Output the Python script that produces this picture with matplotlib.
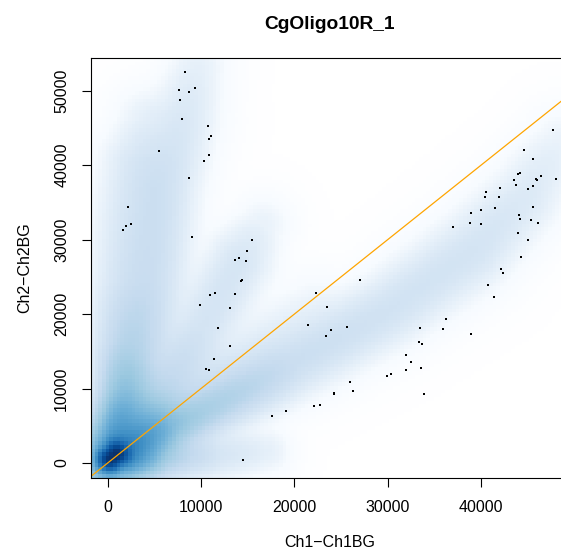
import numpy as np
import matplotlib
matplotlib.use("Agg")
import matplotlib.pyplot as plt
from matplotlib.colors import LinearSegmentedColormap

plt.rcParams['font.family'] = ['Liberation Sans', 'DejaVu Sans']

# low-density points that smoothScatter draws as dots
pts_x = [8300, 7600, 8700, 9350, 7700, 7950, 10700, 11050, 10800, 5500,
         10800, 10300, 8700, 2150, 2450, 1950, 1600, 9000, 14900, 14050,
         13600, 14800, 15450, 47700, 44550, 45550, 43950, 44150, 43500, 45850,
         45950, 46400, 48000, 43700, 45000, 45550, 42000, 40500, 40400, 41900,
         41450, 45550, 38900, 39950, 44050, 44150, 45300, 46050, 38800, 39950,
         36950, 43950, 45000, 44250, 14350, 14250, 11450, 10950, 13600, 9850,
         13050, 11800, 13050, 11350, 10500, 10800, 14450, 27000, 22300, 23450,
         21450, 23900, 25600, 23350, 30300, 29900, 25950, 26250, 24200, 24200,
         22700, 22050, 19050, 17550, 42100, 42300, 40700, 41350, 36200, 33450,
         35900, 38900, 33300, 33650, 31950, 32450, 31950, 33550, 33850]
pts_y = [52500, 50100, 49800, 50350, 48750, 46200, 45250, 43900, 43500, 41900,
         41350, 40550, 38300, 34400, 32100, 31850, 31300, 30350, 28450, 27550,
         27250, 27150, 30000, 44700, 42050, 40850, 38800, 38950, 38000, 38150,
         38000, 38550, 38150, 37350, 36800, 37200, 36950, 36400, 35700, 35700,
         34250, 34400, 33600, 34000, 33300, 32750, 32650, 32250, 32250, 32100,
         31700, 30900, 29950, 27650, 24600, 24450, 22850, 22550, 22700, 21200,
         20800, 18150, 15700, 13950, 12600, 12500, 400, 24600, 22850, 20950,
         18550, 17850, 18250, 17050, 11950, 11700, 10900, 9650, 9400, 9250,
         7800, 7650, 7000, 6300, 26050, 25500, 23900, 22300, 19350, 18150,
         18000, 17300, 16250, 16000, 14500, 13550, 12500, 12750, 9250]

# density ridges: (x, y, relative density, spread in px)
core = [(200, 500, 1.0, 7), (900, 1200, 1.0, 7)]
halo = [(300, 800, 0.1, 22), (2500, 3000, 0.06, 24)]
ray_vertical = [(700, 3000, 0.12, 9), (1300, 9000, 0.05, 12), (1800, 16000, 0.02, 15),
                (2500, 24000, 0.008, 18), (3000, 32000, 0.006, 19),
                (3500, 40000, 0.005, 18), (4200, 46000, 0.0015, 15)]
ray_steep = [(2000, 4000, 0.04, 10), (3800, 14000, 0.012, 14), (5000, 25000, 0.007, 16),
             (5800, 37000, 0.007, 17), (8000, 46000, 0.004, 16), (9500, 53000, 0.0015, 14)]
ray_mid = [(2500, 3000, 0.05, 10), (6000, 9500, 0.015, 14), (10000, 18000, 0.006, 16),
           (14000, 27000, 0.005, 16), (16500, 32000, 0.001, 13)]
ray_diag = [(3000, 3000, 0.04, 10), (8000, 8000, 0.008, 15), (15000, 14000, 0.003, 17),
            (22000, 20000, 0.001, 17)]
ray_low = [(2500, 1800, 0.12, 9), (7000, 4800, 0.045, 12), (10650, 7100, 0.03, 13),
           (20000, 13500, 0.01, 16), (30000, 20500, 0.007, 17), (39000, 28500, 0.006, 18),
           (44500, 35500, 0.0035, 17), (48500, 43000, 0.001, 15)]
ray_flat = [(2500, 300, 0.1, 8), (6000, 700, 0.02, 10), (12000, 1200, 0.005, 12),
            (17000, 1600, 0.0015, 11)]
ridges = [core, halo, ray_vertical, ray_steep, ray_mid, ray_diag, ray_low, ray_flat]

blues9 = ["#F7FBFF", "#DEEBF7", "#C6DBEF", "#9ECAE1", "#6BAED6",
          "#4292C6", "#2171B5", "#08519C", "#08306B"]
cmap = LinearSegmentedColormap.from_list("sm", ["white"] + blues9)

W, H = 561, 558
fig = plt.figure(figsize=(W / 100, H / 100), dpi=100)
ax = fig.add_axes([90.7 / W, 80 / H, (569 - 90.7) / W, 420 / H])
xlim = (-1821, 49420)
ylim = (-2015, 54390)
ax.set_xlim(*xlim)
ax.set_ylim(*ylim)

# density grid (about 128 bins across)
nx, ny = 130, 114
gx = np.linspace(xlim[0], xlim[1], nx + 1)
gy = np.linspace(ylim[0], ylim[1], ny + 1)
cx = (gx[:-1] + gx[1:]) / 2
cy = (gy[:-1] + gy[1:]) / 2
CX, CY = np.meshgrid(cx, cy)
P = ax.transData.transform(np.column_stack([CX.ravel(), CY.ravel()]))
px, py = P[:, 0], P[:, 1]

field = np.zeros_like(px)
for r in ridges:
    r = np.array(r, dtype=float)
    nodes = ax.transData.transform(r[:, :2])
    best = np.zeros_like(px)
    for i in range(len(r) - 1):
        a, b = nodes[i], nodes[i + 1]
        ab = b - a
        t = ((px - a[0]) * ab[0] + (py - a[1]) * ab[1]) / (ab @ ab)
        t = np.clip(t, 0, 1)
        qx, qy = a[0] + t * ab[0], a[1] + t * ab[1]
        d2 = (px - qx) ** 2 + (py - qy) ** 2
        amp = r[i, 2] + t * (r[i + 1, 2] - r[i, 2])
        sig = r[i, 3] + t * (r[i + 1, 3] - r[i, 3])
        best = np.maximum(best, amp * np.exp(-d2 / (2 * sig ** 2)))
    field += best
field = (field / field.max()) ** 0.25
field = field.reshape(ny, nx)

ax.imshow(field, extent=(xlim[0], xlim[1], ylim[0], ylim[1]), origin="lower",
          cmap=cmap, vmin=0, vmax=1, interpolation="nearest", aspect="auto", zorder=0)

ax.scatter(pts_x, pts_y, s=2.2, marker="s", color="black", linewidths=0, zorder=3)
ax.plot(xlim, xlim, color="orange", lw=0.9, zorder=2)

ax.set_xticks([0, 10000, 20000, 30000, 40000])
ax.set_yticks([0, 10000, 20000, 30000, 40000, 50000])
ax.tick_params(axis="both", direction="out", length=6.5, width=0.8, labelsize=11.5, pad=9)
ax.tick_params(axis="y", labelrotation=90)
for lab in ax.get_yticklabels():
    lab.set_va("center")
ax.spines["right"].set_visible(False)
for s in ["left", "top", "bottom"]:
    ax.spines[s].set_linewidth(0.8)

ax.set_xlabel("Ch1\u2212Ch1BG", fontsize=11.5, labelpad=15)
ax.set_ylabel("Ch2\u2212Ch2BG", fontsize=11.5, labelpad=16)
ax.set_title("CgOligo10R_1", fontsize=13.8, fontweight="bold", pad=21)

fig.savefig("out.png", dpi=100)
